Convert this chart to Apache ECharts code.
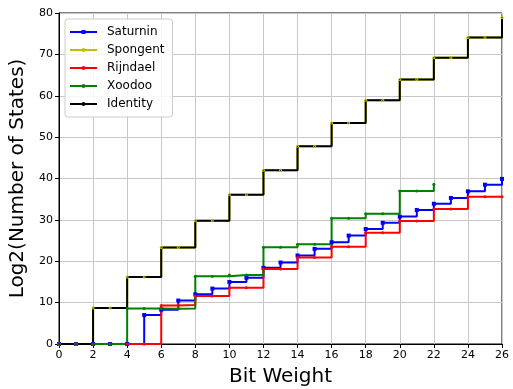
<!DOCTYPE html>
<html>
<head>
<meta charset="utf-8">
<script src="https://cdn.jsdelivr.net/npm/echarts@6/dist/echarts.min.js"></script>
<style>
  html, body { margin: 0; padding: 0; background: #fff; }
  #chart { width: 513px; height: 389px; }
</style>
</head>
<body>
<div id="chart"></div>
<script>
// bit weight 0..26, log2 of the number of states
const bitWeights = [0, 1, 2, 3, 4, 5, 6, 7, 8, 9, 10, 11, 12, 13, 14, 15, 16, 17, 18, 19, 20, 21, 22, 23, 24, 25, 26];
const saturnin = [0, 0, 0, 0, 0, 7.0, 8.3, 10.5, 12.0, 13.4, 15.0, 16.0, 18.4, 19.7, 21.4, 23.0, 24.6, 26.2, 27.8, 29.3, 30.8, 32.4, 33.9, 35.3, 36.9, 38.5, 39.9];
const spongent = [0, 0, 8.7, 8.7, 16.2, 16.2, 23.3, 23.3, 29.8, 29.8, 36.1, 36.1, 42.0, 42.0, 47.8, 47.8, 53.4, 53.4, 58.9, 58.9, 63.9, 63.9, 69.2, 69.2, 74.1, 74.1, 78.9];
const rijndael = [0, 0, 0, 0, 0, 0, 9.3, 9.4, 11.6, 11.6, 13.6, 13.6, 18.1, 18.1, 20.9, 20.9, 23.5, 23.5, 26.9, 26.9, 29.7, 29.7, 32.6, 32.6, 35.6, 35.6, 35.6];
const xoodoo = [0, 0, 0, 0, 8.6, 8.6, 8.5, 8.6, 16.4, 16.4, 16.7, 16.7, 23.4, 23.4, 24.1, 24.1, 30.4, 30.4, 31.5, 31.5, 37.0, 37.0, 38.6];
const identity = [0, 0, 8.7, 8.7, 16.2, 16.2, 23.3, 23.3, 29.8, 29.8, 36.1, 36.1, 42.0, 42.0, 47.8, 47.8, 53.4, 53.4, 58.9, 58.9, 63.9, 63.9, 69.2, 69.2, 74.1, 74.1, 78.9];

const FONT = 'DejaVu Sans';

const pairs = (values) => values.map((v, i) => [bitWeights[i], v]);

const stepSeries = (name, values, color, symbol, symbolSize) => ({
	name,
	type: 'line',
	step: 'end',
	data: pairs(values),
	symbol,
	symbolSize,
	showSymbol: true,
	lineStyle: { color, width: 2 },
	itemStyle: { color },
	animation: false
});

const chart = echarts.init(document.getElementById('chart'), null, { renderer: 'canvas' });

chart.setOption({
	backgroundColor: '#fff',
	grid: {
		left: 59, right: 11, top: 13, bottom: 45,
		outerBoundsMode: 'none',
		show: true, borderColor: '#000', borderWidth: 1
	},
	legend: {
		orient: 'vertical',
		left: 65,
		top: 19,
		padding: [6, 8, 6, 4],
		itemWidth: 27,
		itemHeight: 5,
		itemGap: 4,
		backgroundColor: 'rgba(255,255,255,0.85)',
		borderColor: '#cccccc',
		borderWidth: 1,
		borderRadius: 3,
		textStyle: { fontFamily: FONT, fontSize: 12, color: '#000', padding: [0, 0, 0, 5], lineHeight: 14 },
		data: ['Saturnin', 'Spongent', 'Rijndael', 'Xoodoo', 'Identity']
	},
	xAxis: {
		type: 'value',
		min: 0, max: 26, interval: 2,
		name: 'Bit Weight',
		nameLocation: 'middle',
		nameGap: 23,
		nameTextStyle: { fontFamily: FONT, fontSize: 20, color: '#000' },
		axisLine: { lineStyle: { color: '#000', width: 1 } },
		axisTick: { show: true, length: 4, lineStyle: { color: '#000' } },
		axisLabel: { fontFamily: FONT, fontSize: 11, color: '#000', margin: 6 },
		splitLine: { show: true, lineStyle: { color: '#c8c8c8', width: 1 } }
	},
	yAxis: {
		type: 'value',
		min: 0, max: 80, interval: 10,
		name: 'Log2(Number of States)',
		nameLocation: 'middle',
		nameGap: 30,
		nameTextStyle: { fontFamily: FONT, fontSize: 20, color: '#000' },
		axisLine: { show: true, lineStyle: { color: '#000', width: 1 } },
		axisTick: { show: true, length: 4, lineStyle: { color: '#000' } },
		axisLabel: { fontFamily: FONT, fontSize: 11, color: '#000', margin: 6 },
		splitLine: { show: true, lineStyle: { color: '#c8c8c8', width: 1 } }
	},
	series: [
		stepSeries('Saturnin', saturnin, '#0000ff', 'rect', 4),
		stepSeries('Spongent', spongent, '#bfbf00', 'circle', 3),
		stepSeries('Rijndael', rijndael, '#ff0000', 'circle', 3),
		stepSeries('Xoodoo', xoodoo, '#008000', 'circle', 3),
		stepSeries('Identity', identity, '#000000', 'circle', 1)
	]
});
</script>
</body>
</html>
